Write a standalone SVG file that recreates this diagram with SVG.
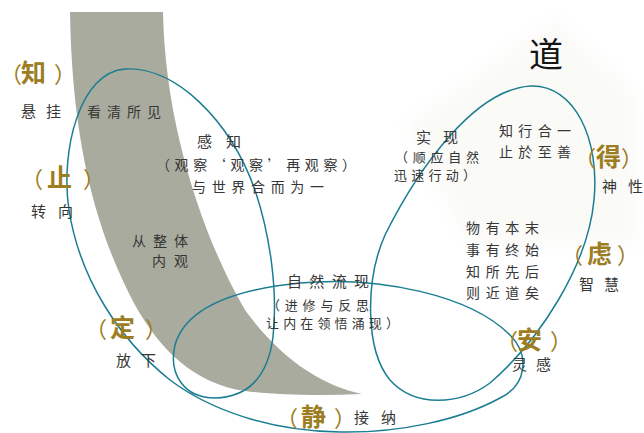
<svg xmlns="http://www.w3.org/2000/svg" width="644" height="433" viewBox="0 0 644 433">
<defs>
<filter id="soft" x="-20%" y="-20%" width="140%" height="140%"><feGaussianBlur stdDeviation="8"/></filter>
</defs>
<style>
text{font-family:"Noto Sans CJK SC","Noto Sans",sans-serif;}
.t{fill:#363636;font-size:14px;}
.s{fill:#363636;font-size:13px;}
.m{fill:#363636;font-size:15px;}
.g{fill:#9c7d22;font-weight:bold;}
.gp{font-size:22px;font-weight:normal;}
.gc{font-size:25px;}
.loop{fill:none;stroke:#1b7d92;stroke-width:1.5;}
</style>
<rect width="644" height="433" fill="#ffffff"/>
<g id="mountain">
<path d="M405,125 L556,18 L636,95 L636,245 L470,245 Z" fill="#f1efe8" opacity="0.3" filter="url(#soft)"/>
</g>
<g id="band">
<path d="M70,12 L163,12 C165,125 203,238 245,310 C280,358 320,385 362,394 C320,396 275,395 245,391 C195,384 160,350 135,305 C95,230 72,140 70,12 Z" fill="#a8ab9d"/>
</g>
<g id="connectors">
<path class="loop" d="M125,69 C175,66 230,120 255,190 C270,235 278,290 273,337 C268,375 250,397 215,398 C185,398 168,375 175,345 C185,310 230,290 300,283 C380,276 470,295 510,335 C530,355 527,385 500,398 C460,420 400,433 340,432 C270,431 210,410 170,380 C120,340 80,280 69,210 C60,150 80,72 125,69 Z"/>
<path class="loop" d="M530,86 C575,84 600,140 594,200 C588,265 540,340 490,383 C460,405 415,408 390,380 C365,350 365,280 385,235 C420,165 475,90 530,86 Z"/>
</g>
<g id="node-dao"><text x="529" y="67" font-size="34" fill="#151515">道</text></g>
<g id="node-zhi">
<text class="g" y="82"><tspan class="gp" x="0">（</tspan><tspan class="gc" x="21">知</tspan><tspan class="gp" x="54">）</tspan></text>
<text class="m" x="21" y="117" textLength="40" lengthAdjust="spacing">悬挂</text>
</g>
<g id="node-kanqing"><text class="t" x="87" y="117" textLength="74" lengthAdjust="spacing">看清所见</text></g>
<g id="node-zhi2">
<text class="g" y="187"><tspan class="gp" x="21">（</tspan><tspan class="gc" x="47">止</tspan><tspan class="gp" x="83">）</tspan></text>
<text class="m" x="31" y="217" textLength="42" lengthAdjust="spacing">转向</text>
</g>
<g id="node-ganzhi">
<text class="m" x="197" y="147" textLength="44" lengthAdjust="spacing">感知</text>
<text class="t" x="156" y="170" textLength="200" lengthAdjust="spacing">（观察‘观察’再观察）</text>
<text class="t" x="192" y="192" textLength="132" lengthAdjust="spacing">与世界合而为一</text>
</g>
<g id="node-zhengti">
<text class="t" x="132" y="246" textLength="56" lengthAdjust="spacing">从整体</text>
<text class="t" x="152" y="266" textLength="36" lengthAdjust="spacing">内观</text>
</g>
<g id="node-ding">
<text class="g" y="337"><tspan class="gp" x="85">（</tspan><tspan class="gc" x="110">定</tspan><tspan class="gp" x="145">）</tspan></text>
<text class="m" x="116" y="366" textLength="40" lengthAdjust="spacing">放下</text>
</g>
<g id="node-ziran">
<text class="m" x="287" y="287" textLength="82" lengthAdjust="spacing">自然流现</text>
<text class="s" x="267" y="310" textLength="102" lengthAdjust="spacing">（进修与反思</text>
<text class="s" x="266" y="328" textLength="133" lengthAdjust="spacing">让内在领悟涌现）</text>
</g>
<g id="node-jing">
<text class="g" y="426"><tspan class="gp" x="276">（</tspan><tspan class="gc" x="301">静</tspan><tspan class="gp" x="334">）</tspan></text>
<text class="m" x="354" y="423" font-size="16" textLength="42" lengthAdjust="spacing">接纳</text>
</g>
<g id="node-shixian">
<text class="m" x="416" y="143" textLength="42" lengthAdjust="spacing">实现</text>
<text class="s" x="395" y="162" textLength="84" lengthAdjust="spacing">（顺应自然</text>
<text class="s" x="394" y="180" textLength="82" lengthAdjust="spacing">迅速行动）</text>
</g>
<g id="node-zhixing">
<text class="t" x="499" y="136" textLength="72" lengthAdjust="spacing">知行合一</text>
<text class="t" x="499" y="157" textLength="72" lengthAdjust="spacing">止於至善</text>
</g>
<g id="node-de">
<text class="g" y="166"><tspan class="gp" x="574">（</tspan><tspan class="gc" x="596">得</tspan><tspan class="gp" x="621" font-size="20">）</tspan></text>
<text class="m" x="602" y="192" textLength="41" lengthAdjust="spacing">神性</text>
</g>
<g id="node-benmo">
<text class="t" x="466" y="233" textLength="73" lengthAdjust="spacing">物有本末</text>
<text class="t" x="466" y="255" textLength="73" lengthAdjust="spacing">事有终始</text>
<text class="t" x="466" y="277" textLength="73" lengthAdjust="spacing">知所先后</text>
<text class="t" x="466" y="298" textLength="73" lengthAdjust="spacing">则近道矣</text>
</g>
<g id="node-lv">
<text class="g" y="263"><tspan class="gp" x="561">（</tspan><tspan class="gc" x="587">虑</tspan><tspan class="gp" x="617">）</tspan></text>
<text class="m" x="579" y="290" textLength="40" lengthAdjust="spacing">智慧</text>
</g>
<g id="node-an">
<text class="g" y="349"><tspan class="gp" x="496">（</tspan><tspan class="gc" x="517">安</tspan><tspan class="gp" x="550">）</tspan></text>
<text class="m" x="512" y="370" textLength="39" lengthAdjust="spacing">灵感</text>
</g>
</svg>
